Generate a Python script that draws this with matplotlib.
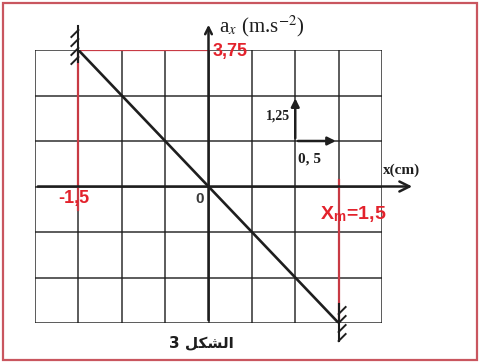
import matplotlib

matplotlib.use("Agg")
import matplotlib.pyplot as plt
from matplotlib.patches import Rectangle

plt.rcParams["mathtext.fontset"] = "stix"

# grid (x in cm, a in m.s^-2)
x_grid = [-2.0, -1.5, -1.0, -0.5, 0.0, 0.5, 1.0, 1.5, 2.0]
a_grid = [-3.75, -2.5, -1.25, 0.0, 1.25, 2.5, 3.75]

# a_x = f(x) between the two extreme positions
x_line = [-1.5, 1.5]
a_line = [3.75, -3.75]

x_m = 1.5
a_max = 3.75

# scale arrows: one division = 0.5 cm, 1.25 m.s^-2
scale_origin = (1.0, 1.25)
scale_dx = 0.5
scale_da = 1.25

W, H = 480, 363
PX_X = 347 / 4.0     # pixels per cm
PX_Y = 273 / 7.5     # pixels per m.s^-2

RED = "#e3222c"
RED_LINE = "#c83a44"
INK = "#1e1e1e"

fig = plt.figure(figsize=(W / 100, H / 100), dpi=100)
fig.patch.set_facecolor("white")
ax = fig.add_axes([35 / W, 1 - 323 / H, 347 / W, 273 / H])
ax.set_xlim(-2, 2)
ax.set_ylim(-3.75, 3.75)
ax.axis("off")

# frame around the whole figure
fig.patches.append(Rectangle((3 / W, 3 / H), 474 / W, 357 / H, transform=fig.transFigure,
                             fill=False, ec="#c9565f", lw=1.6))

for xv in x_grid:
    ax.plot([xv, xv], [a_grid[0], a_grid[-1]], color=INK, lw=1.2, alpha=0.85, zorder=1)
for av in a_grid:
    ax.plot([x_grid[0], x_grid[-1]], [av, av], color=INK, lw=1.2, alpha=0.85, zorder=1)

# axes with arrows
ax.annotate("", xy=(2.38, 0), xytext=(x_grid[0], 0),
            arrowprops=dict(arrowstyle="->", color=INK, lw=1.8, mutation_scale=18),
            annotation_clip=False, zorder=3)
ax.annotate("", xy=(0, 4.52), xytext=(0, a_grid[0]),
            arrowprops=dict(arrowstyle="->", color=INK, lw=1.8, mutation_scale=12),
            annotation_clip=False, zorder=3)

# red guide lines
ax.plot([x_line[0], 0], [a_max, a_max], color=RED_LINE, lw=1.6, zorder=2)
ax.plot([x_line[0], x_line[0]], [a_max, -0.65], color=RED_LINE, lw=1.6, zorder=2)
ax.plot([x_m, x_m], [0.18, -a_max], color=RED_LINE, lw=1.6, zorder=2)

# a_x(x) line
ax.plot(x_line, a_line, color=INK, lw=1.9, zorder=4)


# walls (hatched) at the extreme positions
def wall(x0, y0, base_px, y_top_px, y_bot_px, hatch_ys, sign):
    to_a = lambda p: y0 + (base_px - p) / PX_Y
    ax.plot([x0, x0], [to_a(y_top_px), to_a(y_bot_px)], color=INK, lw=1.5,
            clip_on=False, zorder=4)
    for p in hatch_ys:
        ax.plot([x0, x0 + sign * 7 / PX_X], [to_a(p), to_a(p - sign * 7)],
                color=INK, lw=1.4, clip_on=False, zorder=4)


wall(x_line[0], a_line[0], 50, 26, 62, [30, 39, 48, 57], -1)
wall(x_line[1], a_line[1], 323, 304, 341, [314, 323, 332, 341], 1)

# scale arrows
ox, oa = scale_origin
ax.annotate("", xy=(ox, oa + scale_da), xytext=(ox, oa),
            arrowprops=dict(arrowstyle="-|>", color=INK, lw=1.8, mutation_scale=12),
            zorder=5)
ax.annotate("", xy=(ox + scale_dx, oa), xytext=(ox, oa),
            arrowprops=dict(arrowstyle="-|>", color=INK, lw=1.8, mutation_scale=12),
            zorder=5)
ax.text(ox - 0.06, oa + scale_da * 0.55, "1,25", fontsize=10, fontweight="bold",
        family="Liberation Serif", color=INK, ha="right", va="center")
ax.text(ox + 0.03, oa - 0.5, "0, 5", fontsize=11, fontweight="bold",
        family="Liberation Serif", color=INK, ha="left", va="center")

# axis labels
ax.text(0.12, 4.4, r"a$_{x}$ (m.s$^{-2}$)", fontsize=15, family="Liberation Serif",
        color=INK, ha="left", va="center", clip_on=False)
ax.text(2.22, 0.45, "x(cm)", fontsize=11, fontweight="bold", family="Liberation Serif",
        color=INK, ha="center", va="center", clip_on=False)
ax.text(-0.05, -0.33, "0", fontsize=11, fontweight="bold", family="Liberation Sans",
        color="#3a3a3a", ha="right", va="center")

# red values
ax.text(0.05, a_max - 0.05, "3,75", fontsize=13, fontweight="bold", family="Liberation Sans",
        color=RED, ha="left", va="center", clip_on=False)
ax.text(x_line[0] - 0.05, -0.33, "-1,5", fontsize=13, fontweight="bold",
        family="Liberation Sans", color=RED, ha="center", va="center")
ax.text(x_m + 0.17, -0.75, r"X$_{\mathregular{m}}$=1,5", fontsize=14, fontweight="bold",
        family="Liberation Sans", color=RED, ha="center", va="center")

# caption (Arabic presentation forms, visual order)
ax.text(-0.08, -4.3, "3 \ufede\ufedc\ufeb8\ufedf\ufe8d", fontsize=11, fontweight="bold",
        family="DejaVu Sans", color=INK, ha="center", va="center", clip_on=False)

fig.savefig("out.png", dpi=100)
